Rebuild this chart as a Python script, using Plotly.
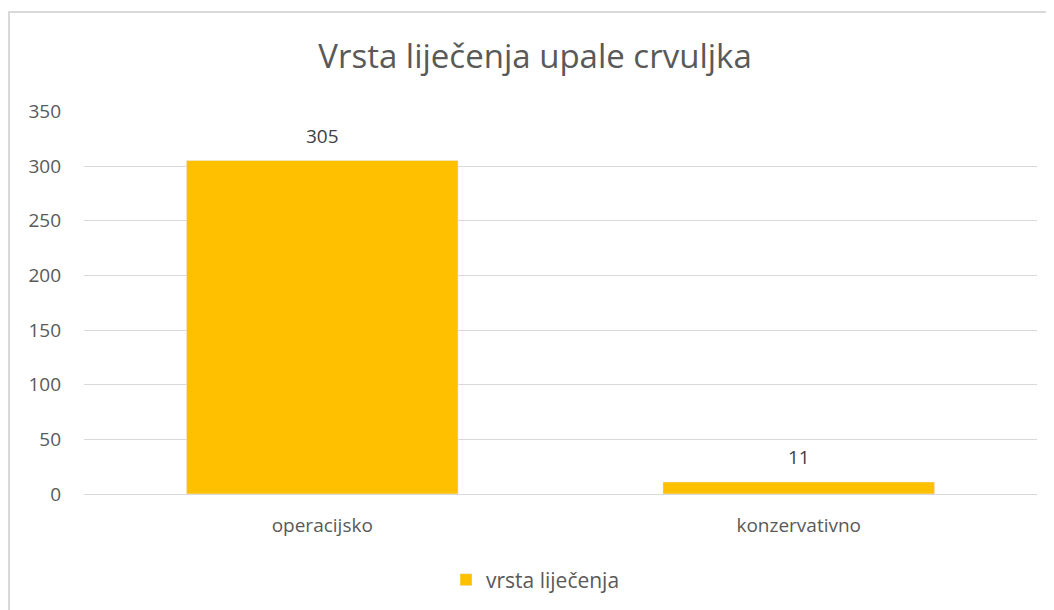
import plotly.graph_objects as go

categories = ["operacijsko", "konzervativno"]
values = [305, 11]
series_name = "vrsta liječenja"

# page is shown with an 8px body margin, so the figure is laid out 8px up/left
W, H = 1054, 610
L, R, T, B = 76, 25, 103, 124
pw, ph = W - L - R, H - T - B

fig = go.Figure()
fig.add_trace(go.Bar(
    x=categories,
    y=values,
    name=series_name,
    marker_color="#FFC000",
    showlegend=True,
))

# data labels above the bars
for c, v in zip(categories, values):
    fig.add_annotation(
        x=c, y=v, text=str(v),
        showarrow=False, yanchor="middle", yshift=25,
        font=dict(size=19, color="#404040"),
    )

fig.update_layout(
    width=W, height=H,
    margin=dict(l=L, r=R, t=T, b=B, autoexpand=False),
    paper_bgcolor="white",
    plot_bgcolor="white",
    font=dict(family="Open Sans, Noto Sans, sans-serif", color="#595959"),
    title=dict(
        text="Vrsta liječenja upale crvuljka",
        x=0.5, xanchor="center",
        y=1 - 48 / H, yanchor="middle",
        font=dict(size=33, color="#595959"),
    ),
    bargap=0.43,
    xaxis=dict(
        showline=False, ticks="",
        tickfont=dict(size=19, color="#595959"),
        ticklabelstandoff=18,
    ),
    yaxis=dict(
        range=[0, 350.3], tickvals=[0, 50, 100, 150, 200, 250, 300, 350],
        gridcolor="#D9D9D9", gridwidth=1,
        zeroline=True, zerolinecolor="#D9D9D9", zerolinewidth=1,
        tickfont=dict(size=19, color="#595959"),
        ticks="", ticklen=0,
        ticklabelstandoff=22,
    ),
    legend=dict(
        orientation="h",
        x=(438 - L) / pw, xanchor="left",
        y=(ph + T - 572) / ph, yanchor="middle",
        font=dict(size=21, color="#595959"),
        bgcolor="rgba(0,0,0,0)",
        itemwidth=30,
    ),
    shapes=[dict(
        type="rect", xref="paper", yref="paper",
        x0=(1 - L) / pw, x1=(W + 5 - L) / pw,
        y0=(T + ph - H - 5) / ph, y1=(T + ph - 4) / ph,
        line=dict(color="#D9D9D9", width=2),
        fillcolor="rgba(0,0,0,0)",
    )],
)

fig.write_html("out.html")
